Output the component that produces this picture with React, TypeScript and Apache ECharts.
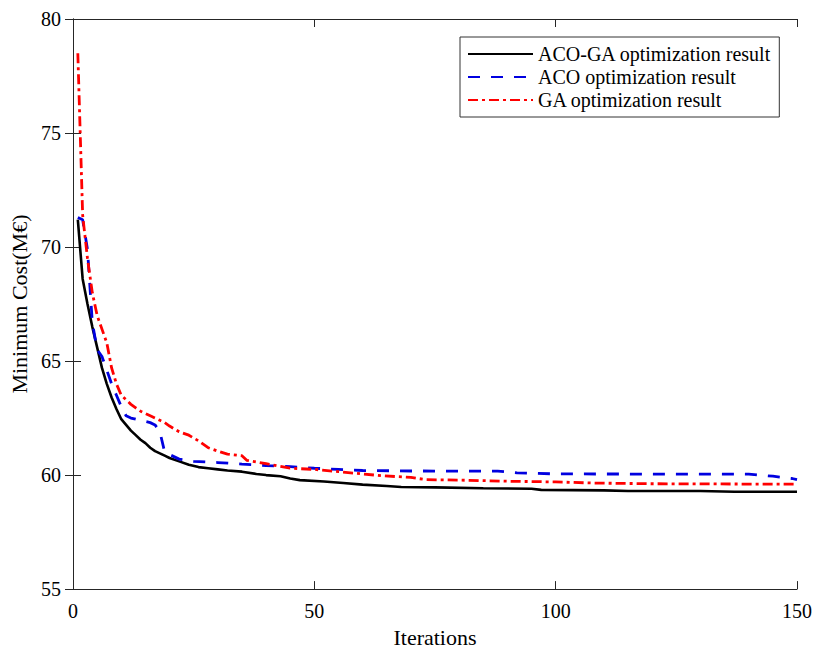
import React, { useEffect, useRef } from "react";
import * as echarts from "echarts";

const seriesNames = ["ACO-GA optimization result", "ACO optimization result", "GA optimization result"];

const acoGaPoints: [number, number][] = [
  [1, 71.2], [2, 68.6], [3, 67.5], [4, 66.5], [5, 65.6], [6, 64.7], [7, 64.0], [8, 63.4], [9, 62.9],
  [10, 62.45], [11, 62.2], [12, 61.95], [13, 61.75], [14, 61.55], [15, 61.4], [16, 61.2], [17, 61.05],
  [18, 60.95], [19, 60.85], [20, 60.75], [22, 60.6], [24, 60.45], [26, 60.35], [28, 60.3], [30, 60.25],
  [32, 60.2], [35, 60.15], [38, 60.05], [40, 60.0], [43, 59.95], [45, 59.85], [47, 59.78], [52, 59.72],
  [56, 59.65], [60, 59.58], [65, 59.52], [68, 59.48], [75, 59.46], [85, 59.42], [95, 59.4], [97, 59.35],
  [110, 59.33], [115, 59.3], [130, 59.3], [137, 59.27], [150, 59.27],
];

const acoPoints: [number, number][] = [
  [1, 71.3], [2, 71.2], [3, 69.9], [4, 66.7], [5, 65.5], [6, 65.2], [7, 64.6], [8, 64.0], [9, 63.5],
  [10, 63.0], [11, 62.6], [12, 62.5], [14, 62.4], [16, 62.3], [17, 62.2], [18, 61.9], [19, 61.0],
  [20, 60.9], [22, 60.7], [25, 60.6], [30, 60.55], [35, 60.48], [40, 60.42], [45, 60.37], [50, 60.3],
  [55, 60.25], [60, 60.2], [70, 60.18], [88, 60.17], [92, 60.1], [100, 60.05], [140, 60.04],
  [145, 59.95], [149, 59.85], [150, 59.8],
];

const gaPoints: [number, number][] = [
  [1, 78.5], [2, 71.4], [3, 69.5], [4, 68.0], [5, 67.0], [6, 66.4], [7, 65.8], [8, 64.7], [9, 64.0],
  [10, 63.5], [11, 63.3], [12, 63.1], [13, 62.95], [14, 62.8], [16, 62.6], [18, 62.4], [19, 62.3],
  [20, 62.15], [22, 61.9], [24, 61.75], [26, 61.5], [28, 61.2], [30, 61.05], [32, 60.92], [35, 60.85],
  [36, 60.65], [40, 60.5], [45, 60.3], [50, 60.25], [55, 60.15], [60, 60.05], [64, 59.97], [70, 59.9],
  [73, 59.8], [80, 59.78], [90, 59.73], [100, 59.7], [108, 59.65], [120, 59.62], [150, 59.6],
];

const xTicks = [0, 50, 100, 150];
const yTicks = [55, 60, 65, 70, 75, 80];

const FONT = "'Liberation Serif', 'Times New Roman', serif";
const AXIS_COLOR = "#262626";

export default function App() {
  const ref = useRef<HTMLDivElement>(null);
  useEffect(() => {
    if (!ref.current) return;
    const chart = echarts.init(ref.current, undefined, { renderer: "svg" });
    const xMin = xTicks[0], xMax = xTicks[xTicks.length - 1];
    const yMin = yTicks[0], yMax = yTicks[yTicks.length - 1];
    const xInt = xTicks[1] - xTicks[0];
    const yInt = yTicks[1] - yTicks[0];
    const baseAxisLine = { show: true, lineStyle: { color: AXIS_COLOR, width: 1 } };
    const tick = { show: true, inside: true, length: 8, lineStyle: { color: AXIS_COLOR } };
    chart.setOption({
      animation: false,
      backgroundColor: "#ffffff",
      grid: { left: 73, right: 18, top: 19, bottom: 63, containLabel: false },
      legend: {
        orient: "vertical",
        left: 460,
        top: 37,
        padding: [7, 8, 7, 7],
        itemGap: 3,
        itemWidth: 65,
        itemHeight: 14,
        borderColor: "#333",
        borderWidth: 1,
        backgroundColor: "#fff",
        itemStyle: { opacity: 0 },
        textStyle: { fontFamily: FONT, fontSize: 20, color: "#000", padding: [0, 0, 0, 0] },
        data: seriesNames,
      },
      xAxis: [
        {
          type: "value", min: xMin, max: xMax, interval: xInt,
          name: "Iterations", nameLocation: "middle", nameGap: 34,
          nameTextStyle: { fontFamily: FONT, fontSize: 22, color: "#000" },
          axisLine: baseAxisLine,
          axisTick: tick,
          axisLabel: { fontFamily: FONT, fontSize: 20, color: "#000", margin: 12 },
          splitLine: { show: false },
        },
        {
          type: "value", min: xMin, max: xMax, interval: xInt, position: "top",
          axisLine: baseAxisLine, axisTick: tick,
          axisLabel: { show: false }, splitLine: { show: false },
        },
      ],
      yAxis: [
        {
          type: "value", min: yMin, max: yMax, interval: yInt,
          name: "Minimum Cost(M€)", nameLocation: "middle", nameGap: 40,
          nameTextStyle: { fontFamily: FONT, fontSize: 22, color: "#000" },
          axisLine: baseAxisLine,
          axisTick: tick,
          axisLabel: { fontFamily: FONT, fontSize: 20, color: "#000", margin: 12 },
          splitLine: { show: false },
        },
        {
          type: "value", min: yMin, max: yMax, interval: yInt, position: "right",
          axisLine: baseAxisLine, axisTick: tick,
          axisLabel: { show: false }, splitLine: { show: false },
        },
      ],
      series: [
        {
          name: seriesNames[0], type: "line", data: acoGaPoints, symbol: "none",
          xAxisIndex: 0, yAxisIndex: 0,
          lineStyle: { color: "#000000", width: 2.6, type: "solid" },
          itemStyle: { color: "#000000" },
        },
        {
          name: seriesNames[1], type: "line", data: acoPoints, symbol: "none",
          xAxisIndex: 0, yAxisIndex: 0,
          lineStyle: { color: "#0000e0", width: 2.8, type: [12, 11] },
          itemStyle: { color: "#0000e0" },
        },
        {
          name: seriesNames[2], type: "line", data: gaPoints, symbol: "none",
          xAxisIndex: 0, yAxisIndex: 0,
          lineStyle: { color: "#ff0000", width: 2.8, type: [10, 4, 3, 4] },
          itemStyle: { color: "#ff0000" },
        },
      ],
    });
    return () => chart.dispose();
  }, []);
  return <div ref={ref} style={{ position: "fixed", left: 0, top: 0, width: 815, height: 653 }} />;
}
